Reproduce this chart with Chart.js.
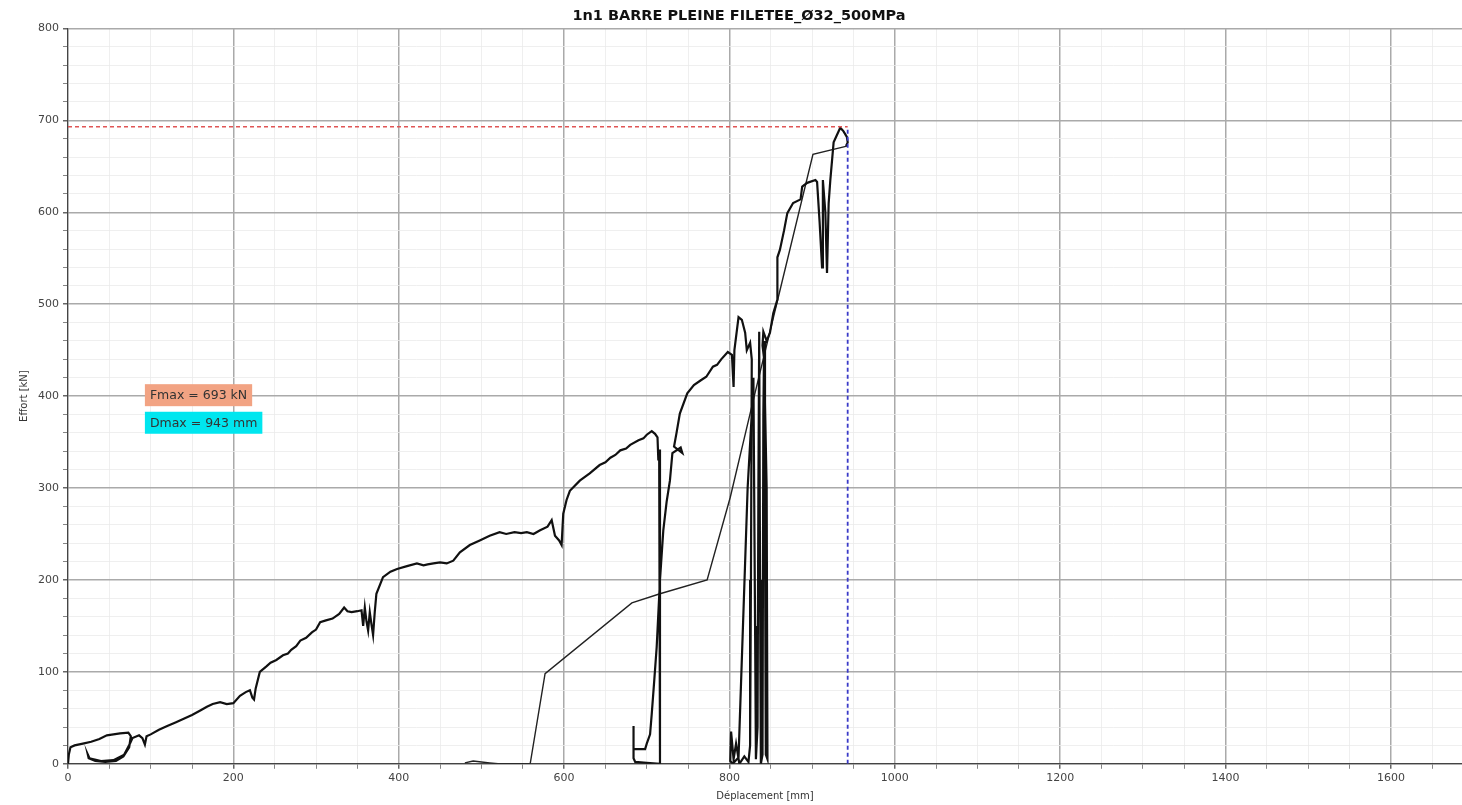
<!DOCTYPE html>
<html>
<head>
<meta charset="utf-8">
<script src="https://cdn.jsdelivr.net/npm/chart.js@4"></script>
<style>
  body { margin: 0; background: #fff; }
  #wrap { width: 1462px; height: 805px; position: relative; }
</style>
</head>
<body>
<div id="wrap"><canvas id="chart"></canvas></div>
<script>
// courbe effort / deplacement
const mainX = [0, 1, 3, 8, 18, 28, 38, 47, 55, 63, 73, 76, 74, 67, 58, 45, 33, 25, 24, 26, 40, 55, 68, 75, 78, 86, 90, 93, 95, 100,
  110, 120, 130, 140, 150, 160, 168, 175, 184, 192, 200, 208, 215, 220, 223, 225, 227, 232, 240, 245, 252, 260, 266, 270, 276,
  281, 288, 295, 300, 305, 312, 320, 328, 334, 338, 343, 350, 355, 357, 359, 361, 363, 365, 367, 369, 371, 373, 381, 390, 398,
  410, 422, 430, 435, 442, 450, 458, 466, 474, 486, 498, 510, 522, 530, 540, 548, 555, 563, 571, 580, 585, 589, 594, 597, 599,
  603, 607, 619, 631, 643, 650, 656, 662, 668, 675, 680, 690, 696, 700, 706, 710, 713, 714, 715, 716, 716, 700, 686, 684, 684,
  684, 686, 698, 700, 704, 706, 709, 712, 716, 720, 724, 728, 731, 741, 743, 733, 736, 740, 749, 757, 765, 772, 780, 785, 790,
  798, 803, 805, 806, 811, 815, 819, 821, 825, 827, 826, 825, 823, 818, 812, 808, 805, 802, 801, 804, 811, 822, 827, 829, 831,
  832, 834, 835, 836, 837, 838, 840, 841, 842, 843, 844, 846, 845, 842, 840, 841, 845, 849, 853, 858, 858, 861, 866, 870, 877,
  886, 888, 894, 904, 906, 909, 912, 913, 913, 916, 918, 920, 922, 926, 930, 934, 936, 938, 942, 943, 941];
const mainY = [0, 10, 18, 20, 22, 24, 27, 31, 32, 33, 34, 30, 18, 8, 3, 2, 3, 6, 10, 6, 3, 4, 10, 22, 28, 31, 28, 21, 30, 32,
  37, 41, 45, 49, 53, 58, 62, 65, 67, 65, 66, 74, 78, 80, 72, 70, 82, 100, 106, 110, 113, 118, 120, 124, 128,
  134, 137, 143, 146, 154, 156, 158, 163, 170, 166, 165, 166, 167, 150, 170, 155, 145, 165, 152, 140, 165, 185, 203, 209, 212,
  215, 218, 216, 217, 218, 219, 218, 221, 230, 238, 243, 248, 252, 250, 252, 251, 252, 250, 254, 258, 265, 248, 243, 238, 272,
  287, 297, 308, 316, 325, 328, 333, 336, 341, 343, 347, 352, 354, 358, 362, 359, 355, 330, 342, 200, 0, 1, 2, 6, 41,
  16, 16, 16, 22, 32, 54, 90, 127, 200, 254, 285, 308, 338, 344, 338, 345, 360, 381, 403, 412, 417, 421, 432, 434, 440,
  448, 445, 410, 450, 486, 483, 469, 450, 458, 440, 200, 20, 2, 8, 0, 22, 5, 35, 3, 0, 7, 300, 381, 420, 150,
  5, 40, 300, 470, 200, 0, 10, 380, 460, 250, 10, 5, 300, 440, 455, 470, 460, 469, 490, 505, 551, 559, 580, 599, 610,
  614, 628, 632, 635, 633, 590, 540, 600, 635, 600, 534, 610, 635, 676, 684, 692, 690, 688, 682, 676, 672];

// segment de retour (trait fin)
const returnX = [480, 490, 500, 510, 520, 559, 577, 682, 716, 773, 801, 830, 853, 901, 942];
const returnY = [1, 3, 2, 1, 0, 0, 98, 175, 185, 200, 290, 400, 485, 663, 672];

const fmax = 693;
const dmax = 943;
const xMajor = 200;
const yMajor = 100;

const toPoints = (xs, ys) => xs.map((x, i) => ({ x: x, y: ys[i] }));

// boites Fmax / Dmax
const labelBoxes = {
  id: "labelBoxes",
  afterDatasetsDraw(chart) {
    const ctx = chart.ctx;
    const xs = chart.scales.x;
    const ys = chart.scales.y;
    const boxes = [
      { text: "Fmax = " + fmax + " kN", y: 401, bg: "#f2a383" },
      { text: "Dmax = " + dmax + " mm", y: 371, bg: "#00e6ef" },
    ];
    ctx.save();
    ctx.font = "12.5px 'DejaVu Sans'";
    ctx.textBaseline = "middle";
    boxes.forEach((b) => {
      const left = xs.getPixelForValue(93);
      const cy = ys.getPixelForValue(b.y);
      const w = ctx.measureText(b.text).width + 10;
      ctx.fillStyle = b.bg;
      ctx.fillRect(left, cy - 11, w, 22);
      ctx.fillStyle = "#333";
      ctx.fillText(b.text, left + 5, cy + 1);
    });
    ctx.restore();
  },
};

new Chart(document.getElementById("chart"), {
  type: "scatter",
  data: {
    datasets: [
      {
        data: [{ x: dmax, y: 0 }, { x: dmax, y: fmax }],
        showLine: true,
        borderColor: "#3a3ac8",
        borderWidth: 1.8,
        borderDash: [4, 3],
        pointRadius: 0,
      },
      {
        data: [{ x: 0, y: fmax }, { x: dmax, y: fmax }],
        showLine: true,
        borderColor: "#e05555",
        borderWidth: 1.5,
        borderDash: [4, 3],
        pointRadius: 0,
      },
      {
        data: toPoints(mainX, mainY),
        showLine: true,
        borderColor: "#111",
        borderWidth: 2.2,
        pointRadius: 0,
        tension: 0,
      },
      {
        data: toPoints(returnX, returnY),
        showLine: true,
        borderColor: "#222",
        borderWidth: 1.4,
        pointRadius: 0,
        tension: 0,
      },
    ],
  },
  options: {
    responsive: true,
    maintainAspectRatio: false,
    animation: false,
    layout: { padding: { left: 16, right: 0, top: 0, bottom: 3 } },
    plugins: {
      legend: { display: false },
      tooltip: { enabled: false },
      title: {
        display: true,
        text: "1n1 BARRE PLEINE FILETEE_Ø32_500MPa",
        color: "#111",
        font: { family: "DejaVu Sans", size: 14.5, weight: "bold" },
        padding: { top: 8, bottom: 3 },
      },
    },
    scales: {
      x: {
        type: "linear",
        min: 0,
        max: 1686,
        border: { color: "#444", width: 1.2 },
        grid: {
          color: (c) => (c.tick && c.tick.value % xMajor === 0 ? "#aaaaaa" : "#ebebeb"),
          lineWidth: (c) => (c.tick && c.tick.value % xMajor === 0 ? 1.5 : 0.8),
          tickColor: "#666",
          tickLength: 5,
        },
        ticks: {
          stepSize: 50,
          includeBounds: false,
          autoSkip: false,
          maxRotation: 0,
          padding: 3,
          color: "#444",
          font: { family: "DejaVu Sans", size: 11 },
          callback: (v) => (v % xMajor === 0 ? v : ""),
        },
        title: {
          display: true,
          text: "Déplacement [mm]",
          color: "#333",
          font: { family: "DejaVu Sans", size: 10 },
          padding: { top: 2, bottom: 0 },
        },
      },
      y: {
        type: "linear",
        min: 0,
        max: 800,
        border: { color: "#444", width: 1.2 },
        grid: {
          color: (c) => (c.tick && c.tick.value % yMajor === 0 ? "#aaaaaa" : "#ebebeb"),
          lineWidth: (c) => (c.tick && c.tick.value % yMajor === 0 ? 1.5 : 0.8),
          tickColor: "#666",
          tickLength: 5,
        },
        ticks: {
          stepSize: 20,
          autoSkip: false,
          padding: 4,
          color: "#444",
          font: { family: "DejaVu Sans", size: 11 },
          callback: (v) => (v % yMajor === 0 ? v : ""),
        },
        title: {
          display: true,
          text: "Effort [kN]",
          color: "#333",
          font: { family: "DejaVu Sans", size: 10 },
          padding: { top: 2, bottom: 4 },
        },
      },
    },
  },
  plugins: [labelBoxes],
});
</script>
</body>
</html>
